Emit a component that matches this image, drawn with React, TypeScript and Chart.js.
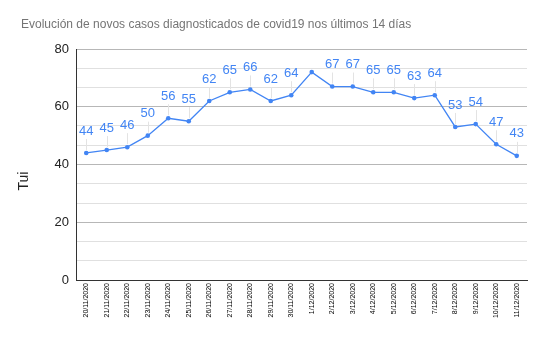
import React, { useEffect, useRef } from "react";
import { Chart, registerables } from "chart.js";

Chart.register(...registerables);

const titleText = "Evolución de novos casos diagnosticados de covid19 nos últimos 14 días";
const yTitle = "Tui";
const dates = [
  "20/11/2020", "21/11/2020", "22/11/2020", "23/11/2020", "24/11/2020", "25/11/2020",
  "26/11/2020", "27/11/2020", "28/11/2020", "29/11/2020", "30/11/2020", "1/12/2020",
  "2/12/2020", "3/12/2020", "4/12/2020", "5/12/2020", "6/12/2020", "7/12/2020",
  "8/12/2020", "9/12/2020", "10/12/2020", "11/12/2020",
];
const cases = [44, 45, 46, 50, 56, 55, 62, 65, 66, 62, 64, 72, 67, 67, 65, 65, 63, 64, 53, 54, 47, 43];
const yMin = 0;
const yMax = 80;
const yLabelStep = 20;

const FONT = '"Liberation Sans", Arial, sans-serif';
const BLUE = "#4285f4";

const overlay = {
  id: "overlay",
  beforeDatasetsDraw(chart: any) {
    const ctx = chart.ctx;
    const meta = chart.getDatasetMeta(0);
    const area = chart.chartArea;
    ctx.save();
    ctx.strokeStyle = "#e3e3e3";
    ctx.lineWidth = 1;
    meta.data.forEach((pt: any) => {
      const ly = pt.y - 22;
      if (ly - 7 < area.top) return;
      const x = Math.round(pt.x) + 0.5;
      ctx.beginPath();
      ctx.moveTo(x, pt.y - 3);
      ctx.lineTo(x, ly + 8);
      ctx.stroke();
    });
    ctx.restore();
  },
  afterDatasetsDraw(chart: any) {
    const ctx = chart.ctx;
    const meta = chart.getDatasetMeta(0);
    const area = chart.chartArea;
    ctx.save();
    ctx.font = `13px ${FONT}`;
    ctx.fillStyle = BLUE;
    ctx.textAlign = "center";
    ctx.textBaseline = "middle";
    meta.data.forEach((pt: any, i: number) => {
      const ly = pt.y - 22;
      if (ly - 7 < area.top) return;
      ctx.fillText(String(cases[i]), pt.x, ly);
    });
    ctx.restore();
  },
  afterDraw(chart: any) {
    const ctx = chart.ctx;
    ctx.save();
    ctx.font = `12px ${FONT}`;
    ctx.fillStyle = "#757575";
    ctx.textAlign = "left";
    ctx.textBaseline = "alphabetic";
    ctx.fillText(titleText, 21, 28);
    ctx.translate(24, 181);
    ctx.rotate(-Math.PI / 2);
    ctx.font = `14px ${FONT}`;
    ctx.fillStyle = "#222222";
    ctx.textAlign = "center";
    ctx.textBaseline = "middle";
    ctx.fillText(yTitle, 0, 0);
    ctx.restore();
  },
};

export default function App() {
  const ref = useRef<HTMLCanvasElement>(null);
  useEffect(() => {
    if (!ref.current) return;
    const chart = new Chart(ref.current, {
      type: "line",
      data: {
        labels: dates,
        datasets: [
          {
            data: cases,
            borderColor: BLUE,
            backgroundColor: BLUE,
            borderWidth: 1.3,
            pointRadius: 2.3,
            pointBorderWidth: 0,
            pointBackgroundColor: BLUE,
            tension: 0,
            fill: false,
          },
        ],
      },
      options: {
        responsive: false,
        animation: false,
        devicePixelRatio: 1,
        layout: { padding: { top: 49, left: 0, right: 17, bottom: 0 } },
        plugins: {
          legend: { display: false },
          title: { display: false },
          tooltip: { enabled: false },
        },
        scales: {
          x: {
            offset: true,
            grid: { display: true, color: "transparent", drawTicks: false },
            border: { display: true, color: "#333333", width: 1 },
            ticks: {
              autoSkip: false,
              minRotation: 90,
              maxRotation: 90,
              padding: 3,
              color: "#000000",
              font: { family: FONT, size: 7 },
            },
            afterFit: (s: any) => {
              s.height = 57;
            },
          },
          y: {
            min: yMin,
            max: yMax,
            grid: {
              drawTicks: false,
              color: (c: any) => (c.index % 3 === 0 ? "#b7b7b7" : "#e0e0e0"),
              lineWidth: 1,
            },
            border: { display: true, color: "#333333", width: 1 },
            ticks: {
              count: 13,
              padding: 7,
              color: "#222222",
              font: { family: FONT, size: 13 },
              callback: (v: any, i: number) => {
                const n = Math.round(Number(v));
                return i % 3 === 0 && n % yLabelStep === 0 ? String(n) : "";
              },
            },
            afterFit: (s: any) => {
              s.width = 76;
            },
          },
        },
      },
      plugins: [overlay],
    });
    return () => chart.destroy();
  }, []);
  return (
    <div style={{ position: "absolute", left: 0, top: 0, width: 544, height: 337, background: "#fff" }}>
      <canvas ref={ref} width={544} height={337} style={{ width: 544, height: 337 }} />
    </div>
  );
}
